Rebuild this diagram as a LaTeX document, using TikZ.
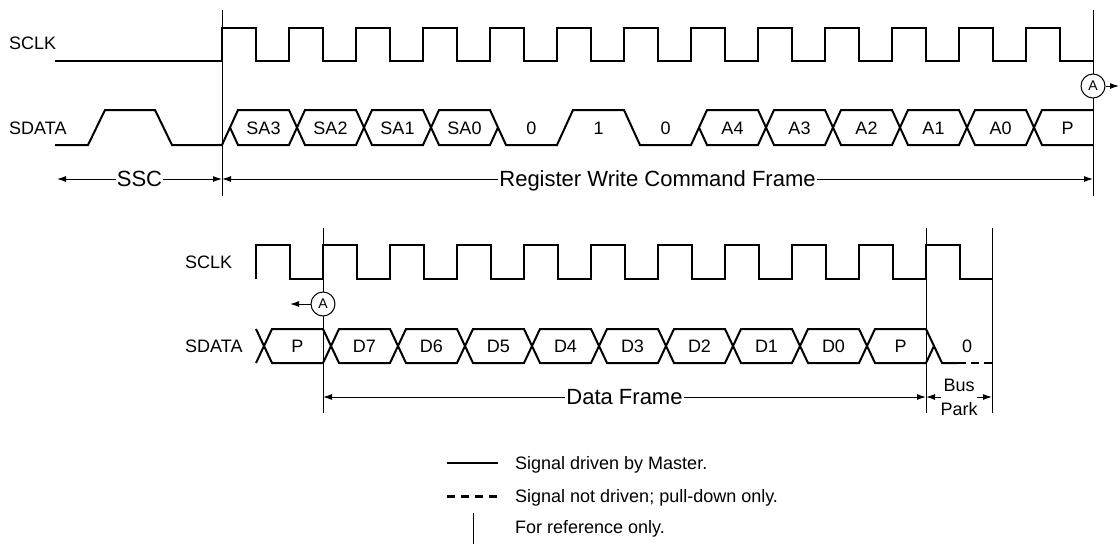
\documentclass[tikz,border=0pt]{standalone}
\usepackage{fontspec}
\setmainfont{Liberation Sans}
\usetikzlibrary{arrows.meta}
\tikzset{
  sig/.style={line width=2pt, line join=miter, line cap=butt},
  refline/.style={line width=1pt},
  dim/.style={line width=1pt, -{Latex[length=9pt,width=6pt]}},
  lbl/.style={font=\fontsize{18}{20}\selectfont, inner sep=0pt, text height=12.9pt, text depth=0pt},
  big/.style={font=\fontsize{22}{24}\selectfont, inner sep=1pt, text height=15.8pt, text depth=0pt},
  circ/.style={circle, draw, line width=1pt, fill=white, minimum size=24pt, inner sep=0pt,
               font=\fontsize{14}{16}\selectfont},
  pk/.style={dash pattern=on 8pt off 5pt},
}
\begin{document}
\begin{tikzpicture}[x=1pt,y=-1pt]
\useasboundingbox (0,0) rectangle (1120,544);
\fill[white] (0,0) rectangle (1120,544);

% ---------- top diagram ----------
\node[lbl, anchor=west] (tsclk) at (9,43) {SCLK};
\node[lbl, anchor=west] (tsdata) at (9,128) {SDATA};

\coordinate (t1a) at (222,10);  \coordinate (t1b) at (222,196);
\coordinate (t2a) at (1093,10); \coordinate (t2b) at (1093,196);
\draw[refline] (t1a) -- (t1b);
\draw[refline] (t2a) -- (t2b);

% clock
\draw[sig] (55,61) -- (222,61)
  foreach \k in {0,...,12}{ -- ({222+67*\k},28) -- ({255.5+67*\k},28) -- ({255.5+67*\k},61) -- ({289+67*\k},61)};

% data
\draw[sig] (55,145) -- (88,145) -- (105,110) -- (155,110) -- (172,145) -- (222,145);
\draw[sig] (222,145) -- (238,110) -- (289,110) -- (305,145) -- (356,145) -- (372,110) -- (423,110) -- (439,145) -- (490,145) -- (498,127.5);
\draw[sig] (230,127.5) -- (238,145) -- (289,145) -- (305,110) -- (356,110) -- (372,145) -- (423,145) -- (439,110) -- (490,110) -- (506,145) -- (557,145) -- (573,110) -- (624,110) -- (640,145) -- (691,145) -- (707,110) -- (758,110) -- (774,145) -- (825,145) -- (841,110) -- (892,110) -- (908,145) -- (959,145) -- (975,110) -- (1026,110) -- (1042,145) -- (1093,145);
\draw[sig] (699,127.5) -- (707,145) -- (758,145) -- (774,110) -- (825,110) -- (841,145) -- (892,145) -- (908,110) -- (959,110) -- (975,145) -- (1026,145) -- (1042,110) -- (1093,110);

\foreach \t/\x [count=\i] in {SA3/263.5, SA2/330.5, SA1/397.5, SA0/464.5, 0/531.5, 1/598.5, 0/665.5,
    A4/732.5, A3/799.5, A2/866.5, A1/933.5, A0/1000.5, P/1067.5}
  \node[lbl] (tc\i) at (\x,128) {\t};

% circle A (top)
\node[circ] (ca) at (1093,86) {A};
\coordinate (caend) at (1119,86);
\draw[dim] (ca.east) -- (caend);

% frame arrows (top)
\coordinate (sscl) at (57,179);
\coordinate (sscr) at (222,179);
\coordinate (rwl) at (222,179);
\coordinate (rwr) at (1093,179);
\node[big] (ssc) at (139.5,179) {SSC};
\node[big] (rw) at (657.5,179) {Register Write Command Frame};
\draw[dim] (ssc.west) -- (sscl);
\draw[dim] (ssc.east) -- (sscr);
\draw[dim] (rw.west) -- (rwl);
\draw[dim] (rw.east) -- (rwr);

% ---------- bottom diagram ----------
\node[lbl, anchor=west] (bsclk) at (185,262) {SCLK};
\node[lbl, anchor=west] (bsdata) at (185,346) {SDATA};

\coordinate (b1a) at (323,228); \coordinate (b1b) at (323,413);
\coordinate (b2a) at (926,228); \coordinate (b2b) at (926,413);
\coordinate (b3a) at (992,228); \coordinate (b3b) at (992,413);
\draw[refline] (b1a) -- (b1b);
\draw[refline] (b2a) -- (b2b);
\draw[refline] (b3a) -- (b3b);

% clock
\draw[sig] (256,279)
  foreach \k in {0,...,9}{ -- ({256+67*\k},245) -- ({289.5+67*\k},245) -- ({289.5+67*\k},279) -- ({323+67*\k},279)}
  -- (926,245) -- (959.5,245) -- (959.5,279) -- (992,279);

% data
\draw[sig] (256,329) -- (272,363) -- (323,363) -- (339,329) -- (390,329) -- (406,363) -- (457,363) -- (473,329) -- (524,329) -- (540,363) -- (591,363) -- (607,329) -- (658,329) -- (674,363) -- (725,363) -- (741,329) -- (792,329) -- (808,363) -- (859,363) -- (875,329) -- (926,329) -- (942,363) -- (958,363);
\draw[sig] (256,363) -- (272,329) -- (323,329) -- (339,363) -- (390,363) -- (406,329) -- (457,329) -- (473,363) -- (524,363) -- (540,329) -- (591,329) -- (607,363) -- (658,363) -- (674,329) -- (725,329) -- (741,363) -- (792,363) -- (808,329) -- (859,329) -- (875,363) -- (926,363) -- (934,346);
\draw[sig, line width=2.5pt, pk] (958,363) -- (992,363);

\foreach \t/\x [count=\i] in {P/297.5, D7/364.5, D6/431.5, D5/498.5, D4/565.5, D3/632.5, D2/699.5,
    D1/766.5, D0/833.5, P/900.5, 0/967}
  \node[lbl] (bc\i) at (\x,346) {\t};

% circle A (bottom)
\node[circ] (cb) at (323,304) {A};
\coordinate (cbend) at (290,304);
\draw[dim] (cb.west) -- (cbend);

% frame arrows (bottom)
\node[big] (df) at (624.5,397) {Data Frame};
\coordinate (dfl) at (323,397);
\coordinate (dfr) at (926,397);
\draw[dim] (df.west) -- (dfl);
\draw[dim] (df.east) -- (dfr);

\node[lbl] (bus) at (959,385) {Bus};
\node[lbl] (park) at (959,409) {Park};
\coordinate (bpl0) at (941,397); \coordinate (bpl) at (926,397);
\coordinate (bpr0) at (977,397); \coordinate (bpr) at (992,397);
\draw[dim] (bpl0) -- (bpl);
\draw[dim] (bpr0) -- (bpr);

% ---------- legend ----------
\coordinate (g1a) at (447,463); \coordinate (g1b) at (498,463);
\coordinate (g2a) at (447,496); \coordinate (g2b) at (497,496);
\coordinate (g3a) at (473,513); \coordinate (g3b) at (473,544);
\draw[sig] (g1a) -- (g1b);
\draw[sig, line width=3pt, dash pattern=on 8pt off 6pt] (g2a) -- (g2b);
\draw[refline] (g3a) -- (g3b);
\node[lbl, anchor=west] (l1) at (515,463) {Signal driven by Master.};
\node[lbl, anchor=west] (l2) at (515,496) {Signal not driven; pull-down only.};
\node[lbl, anchor=west] (l3) at (515,527) {For reference only.};
\end{tikzpicture}
\end{document}
